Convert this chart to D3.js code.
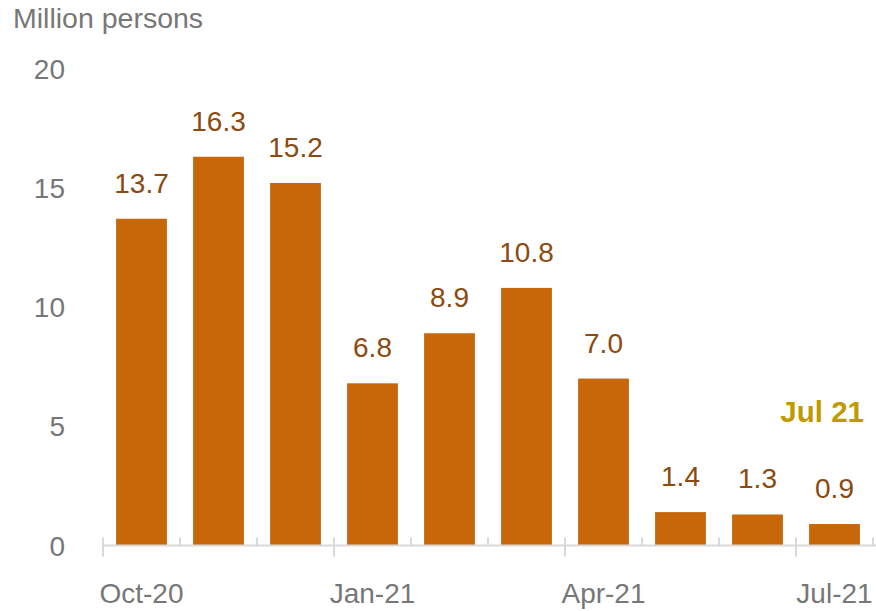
<!DOCTYPE html>
<html>
<head>
<meta charset="utf-8">
<script src="https://cdn.jsdelivr.net/npm/d3@7"></script>
<style>
  body { margin: 0; background: #fff; }
  text { font-family: "Liberation Sans", Arial, Helvetica, sans-serif; }
</style>
</head>
<body>
<div id="chart"></div>
<script>
// data
var months = ["Oct-20","Nov-20","Dec-20","Jan-21","Feb-21","Mar-21","Apr-21","May-21","Jun-21","Jul-21"];
var values = [13.7, 16.3, 15.2, 6.8, 8.9, 10.8, 7.0, 1.4, 1.3, 0.9];
var labelMonths = ["Oct-20","Jan-21","Apr-21","Jul-21"];
var yTicks = [0, 5, 10, 15, 20];

var W = 876, H = 611;
var barColor = "#c8670a", valColor = "#8c4a10", axisGrey = "#777", lineGrey = "#d9d9d9";

var svg = d3.select("#chart").append("svg")
  .attr("width", W).attr("height", H);

var x = d3.scaleBand().domain(months).range([103, 873]).paddingInner(0.34).paddingOuter(0.17);
var y = d3.scaleLinear().domain([0, 20]).range([545.5, 68.5]);

// unit title
svg.append("text")
  .attr("x", 13).attr("y", 28)
  .attr("fill", axisGrey).style("font-size", "28.5px")
  .text("Million persons");

// y labels (no axis line)
svg.selectAll(".ylab").data(yTicks).enter().append("text")
  .attr("class", "ylab")
  .attr("x", 65).attr("y", function(d){ return y(d); })
  .attr("dy", "0.36em")
  .attr("text-anchor", "end")
  .attr("fill", axisGrey).style("font-size", "28px")
  .text(function(d){ return d; });

// bars
svg.selectAll(".bar").data(values).enter().append("rect")
  .attr("class", "bar")
  .attr("x", function(d,i){ return x(months[i]); })
  .attr("width", x.bandwidth())
  .attr("y", function(d){ return y(d); })
  .attr("height", function(d){ return y(0) - y(d); })
  .attr("fill", barColor);

// value labels
svg.selectAll(".val").data(values).enter().append("text")
  .attr("class", "val")
  .attr("x", function(d,i){ return x(months[i]) + x.bandwidth()/2; })
  .attr("y", function(d){ return y(d) - 26; })
  .attr("text-anchor", "middle")
  .attr("fill", valColor).style("font-size", "28px")
  .text(function(d){ return d.toFixed(1); });

// x axis line and ticks at band boundaries
var step = x.step();
var x0 = 103;
svg.append("line")
  .attr("x1", x0).attr("x2", 876)
  .attr("y1", y(0)).attr("y2", y(0))
  .attr("stroke", lineGrey).attr("stroke-width", 2);

var bounds = d3.range(months.length + 1);
svg.selectAll(".tick").data(bounds).enter().append("line")
  .attr("class", "tick")
  .attr("x1", function(k){ return x0 + k*step; })
  .attr("x2", function(k){ return x0 + k*step; })
  .attr("y1", y(0) - 8)
  .attr("y2", function(k){ return (k % 3 === 0 && k < months.length) ? y(0) + 11 : y(0); })
  .attr("stroke", lineGrey).attr("stroke-width", 2);

// x labels under quarter months
svg.selectAll(".xlab").data(labelMonths).enter().append("text")
  .attr("class", "xlab")
  .attr("x", function(d){ return x(d) + x.bandwidth()/2; })
  .attr("y", 603)
  .attr("text-anchor", "middle")
  .attr("fill", axisGrey).style("font-size", "28px")
  .text(function(d){ return d.replace("-", "\u2011"); });

// latest-month tag
svg.append("text")
  .attr("x", 864).attr("y", 422)
  .attr("text-anchor", "end")
  .attr("fill", "#c09a00")
  .style("font-size", "29.5px").style("font-weight", "bold")
  .text("Jul 21");
</script>
</body>
</html>
